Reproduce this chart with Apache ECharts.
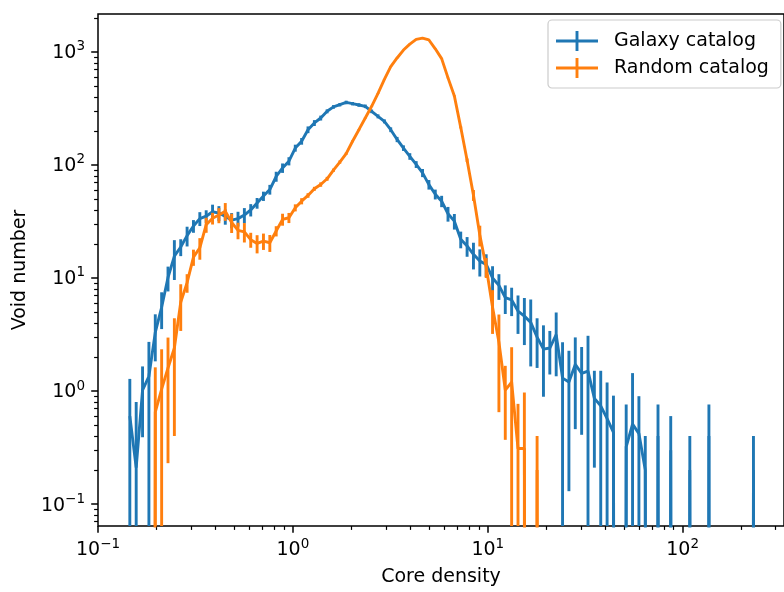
<!DOCTYPE html>
<html>
<head>
<meta charset="utf-8">
<script src="https://cdn.jsdelivr.net/npm/echarts@6/dist/echarts.min.js"></script>
<style>html,body{margin:0;padding:0;background:#fff}#c{width:784px;height:592px}</style>
</head>
<body>
<div id="c"></div>
<script>
// Histogram bins: log-spaced core-density bin centres
const binLogStart = -0.8367;
const binLogStep = 0.032653;

const galaxyCounts = [
 0.6, 0.21, 1.02, 1.35, 3.3, 5.5, 10.1, 15.6, 18.8, 23.7,
 28.8, 33.5, 35.2, 38.5, 37.5, 35, 32.5, 33.5, 36, 40,
 46, 53, 60.6, 79, 94, 108, 141, 162, 205, 235,
 260, 298, 326, 341, 357, 348, 339, 330, 298, 269,
 243, 205, 168, 141, 119, 101, 85, 67, 55, 47.8,
 37, 31.8, 22, 19.2, 16.2, 14.1, 13.2, 10, 8.6, 6.7,
 6.4, 5.1, 4.6, 4.05, 3.0, 2.35, 2.4, 3.15, 1.3, 1.2,
 1.72, 1.43, 1.5, 0.86, 0.74, 0.57, 0.43, 0, 0.32, 0.51,
 0.42, 0.2, 0, 0.4, 0, 0.3, 0, 0, 0.2, 0,
 0, 0.4, 0, 0, 0, 0, 0, 0, 0.2, 0
];
const galaxyErrors = [
 0.68, 0.59, 0.63, 1.37, 1.47, 1.97, 2.5, 6, 3.2, 4.7,
 3.7, 4.7, 4.5, 6, 5.7, 5.4, 5, 5, 5.5, 5,
 5, 5, 6, 8, 9, 9, 10, 11, 14, 14,
 13, 12, 12, 12, 13, 12, 12, 12, 11, 11,
 10, 10, 9, 8, 8, 7, 7, 6.5, 5.5, 5.5,
 5.5, 5, 3.7, 3.8, 4.3, 3.8, 3, 2.7, 2.2, 1.9,
 1.8, 1.9, 2.05, 2.4, 1.4, 1.46, 1.0, 1.8, 1.4, 1.07,
 1.26, 1.02, 1.58, 0.65, 0.77, 0.62, 0.48, 0, 0.44, 0.93,
 0.48, 0.2, 0, 0.36, 0, 0.3, 0, 0, 0.2, 0,
 0, 0.36, 0, 0, 0, 0, 0, 0, 0.2, 0
];
const randomCounts = [
 0, 0, 0, 0, 0.65, 1.04, 1.6, 2.4, 6.1, 9.1,
 15.3, 18.5, 29.6, 33.7, 36, 39, 31, 26.4, 25.6, 21.8,
 20.2, 21.2, 20.5, 26, 33, 34.1, 41.8, 47.8, 53.7, 61.5,
 67.1, 75.4, 89.8, 106, 126, 162, 205, 260, 330, 430,
 570, 740, 883, 1038, 1172, 1288, 1324, 1274, 1064, 871,
 589, 407, 215, 110, 54, 24, 12.5, 5.5, 2.7, 1.02,
 1.2, 0.31, 0.31, 0, 0.2, 0, 0, 0, 0, 0,
 0, 0, 0, 0, 0, 0, 0, 0, 0, 0,
 0, 0, 0, 0, 0, 0, 0, 0, 0, 0,
 0, 0, 0, 0, 0, 0, 0, 0, 0, 0
];
const randomErrors = [
 0, 0, 0, 0, 0.97, 1.3, 1.37, 2.0, 2.7, 1.7,
 2.5, 4, 4.5, 4, 5.5, 7, 6, 4.4, 5, 3.3,
 3.7, 3.5, 3.5, 2.7, 4, 3.5, 3, 3, 2.5, 2.5,
 3, 3, 3, 3.5, 3, 3, 3, 3, 3, 4,
 4, 5, 5, 5, 6, 6, 6, 6, 5, 5,
 5, 5, 5, 4, 6, 5, 2.5, 2.3, 2.05, 0.65,
 1.24, 0.46, 0.66, 0, 0.2, 0, 0, 0, 0, 0,
 0, 0, 0, 0, 0, 0, 0, 0, 0, 0,
 0, 0, 0, 0, 0, 0, 0, 0, 0, 0,
 0, 0, 0, 0, 0, 0, 0, 0, 0, 0
];

const seriesNames = ['Galaxy catalog', 'Random catalog'];
const xTickExps = [-1, 0, 1, 2];
const yTickExps = [-1, 0, 1, 2, 3];
const xLabel = 'Core density';
const yLabel = 'Void number';

// ---------------------------------------------------------------
const BLUE = '#1f77b4', ORANGE = '#ff7f0e';
const FONT = 'DejaVu Sans';
const X_MIN = -1, X_MAX = 2.52, Y_MIN = -1.194, Y_MAX = 3.335;
const FLOOR = -30; // log-scale clip for empty bins (like matplotlib 'clip')

function binX(i) { return binLogStart + binLogStep * i; }
function lineData(counts) {
  return counts.map((v, i) => [binX(i), v > 0 ? Math.log10(v) : FLOOR]);
}
function barData(counts, errs) {
  const out = [];
  counts.forEach((v, i) => {
    if (v > 0) {
      const hi = Math.log10(v + errs[i]);
      const lo = v - errs[i] > 0 ? Math.log10(v - errs[i]) : FLOOR;
      out.push([binX(i), lo, hi]);
    }
  });
  return out;
}
function minors(lo, hi) {
  const r = [];
  for (let n = Math.floor(lo) - 1; n <= Math.ceil(hi); n++) {
    for (let k = 2; k <= 9; k++) {
      const v = n + Math.log10(k);
      if (v >= lo && v <= hi) r.push(v);
    }
  }
  return r;
}
function expLabel(v) {
  const n = Math.round(v);
  return '{b|10}{s|' + (n < 0 ? '\u2212' : '') + Math.abs(n) + '}';
}
const rich = {
  b: { fontSize: 19, fontFamily: FONT, color: '#000', verticalAlign: 'bottom', lineHeight: 22 },
  s: { fontSize: 13.5, fontFamily: FONT, color: '#000', verticalAlign: 'bottom', lineHeight: 16, padding: [0, 0, 9, 0] }
};
function errRender(color) {
  return function (params, api) {
    const x = api.value(0), lo = api.value(1), hi = api.value(2);
    const p1 = api.coord([x, hi]);
    const p2 = api.coord([x, lo]);
    const cs = params.coordSys;
    const y1 = Math.max(p1[1], cs.y);
    const y2 = Math.min(p2[1], cs.y + cs.height);
    if (y1 >= y2) return null;
    return { type: 'line', shape: { x1: p1[0], y1: y1, x2: p1[0], y2: y2 },
             style: { stroke: color, lineWidth: 2.9 } };
  };
}

const chart = echarts.init(document.getElementById('c'), null, { renderer: 'canvas' });
const majorAxisCommon = {
  type: 'value', axisLine: { show: false, onZero: false }, splitLine: { show: false }
};
const option = {
  animation: false,
  backgroundColor: '#fff',
  grid: { left: 98, top: 14, width: 690, height: 513, show: true, borderColor: '#000', borderWidth: 1.5, backgroundColor: 'transparent', containLabel: false },
  legend: {
    orient: 'vertical', left: 548, top: 20,
    padding: [11, 12, 10, 8], itemGap: 7, itemWidth: 42, itemHeight: 20,
    backgroundColor: 'rgba(255,255,255,0.8)', borderColor: '#cccccc', borderWidth: 1.2, borderRadius: 4,
    textStyle: { fontSize: 19, fontFamily: FONT, color: '#000', lineHeight: 20, padding: [0, 0, 0, 11] },
    data: seriesNames.map((n, k) => ({
      name: n,
      icon: 'path://M0,8.55h42v2.9h-42z M19.55,0h2.9v20h-2.9z',
      itemStyle: { color: k === 0 ? BLUE : ORANGE }
    })),
    selectedMode: false
  },
  xAxis: [
    Object.assign({}, majorAxisCommon, {
      min: X_MIN, max: X_MAX, position: 'bottom',
      axisTick: { show: true, customValues: xTickExps, length: 6.8, lineStyle: { color: '#000', width: 1.5 } },
      axisLabel: { show: true, customValues: xTickExps, formatter: expLabel, rich: rich, margin: 12 },
      name: xLabel, nameLocation: 'middle', nameGap: 42,
      nameTextStyle: { fontSize: 19, fontFamily: FONT, color: '#000' }
    }),
    Object.assign({}, majorAxisCommon, {
      min: X_MIN, max: X_MAX, position: 'bottom',
      axisTick: { show: true, customValues: minors(X_MIN, X_MAX), length: 3.9, lineStyle: { color: '#000', width: 1.2 } },
      axisLabel: { show: false }
    })
  ],
  yAxis: [
    Object.assign({}, majorAxisCommon, {
      min: Y_MIN, max: Y_MAX, position: 'left',
      axisTick: { show: true, customValues: yTickExps, length: 6.8, lineStyle: { color: '#000', width: 1.5 } },
      axisLabel: { show: true, customValues: yTickExps, formatter: expLabel, rich: rich, margin: 13 },
      name: yLabel, nameLocation: 'middle', nameGap: 64, nameRotate: 90,
      nameTextStyle: { fontSize: 19, fontFamily: FONT, color: '#000' }
    }),
    Object.assign({}, majorAxisCommon, {
      min: Y_MIN, max: Y_MAX, position: 'left',
      axisTick: { show: true, customValues: minors(Y_MIN, Y_MAX), length: 3.9, lineStyle: { color: '#000', width: 1.2 } },
      axisLabel: { show: false }
    })
  ],
  series: [
    { name: seriesNames[0], type: 'line', data: lineData(galaxyCounts), showSymbol: false, symbol: 'none',
      lineStyle: { color: BLUE, width: 2.9 }, itemStyle: { color: BLUE }, clip: true, z: 2 },
    { name: seriesNames[0], type: 'custom', data: barData(galaxyCounts, galaxyErrors),
      renderItem: errRender(BLUE), encode: { x: 0, y: [1, 2] }, itemStyle: { color: BLUE }, z: 2 },
    { name: seriesNames[1], type: 'line', data: lineData(randomCounts), showSymbol: false, symbol: 'none',
      lineStyle: { color: ORANGE, width: 2.9 }, itemStyle: { color: ORANGE }, clip: true, z: 3 },
    { name: seriesNames[1], type: 'custom', data: barData(randomCounts, randomErrors),
      renderItem: errRender(ORANGE), encode: { x: 0, y: [1, 2] }, itemStyle: { color: ORANGE }, z: 3 }
  ]
};
chart.setOption(option);
</script>
</body>
</html>
